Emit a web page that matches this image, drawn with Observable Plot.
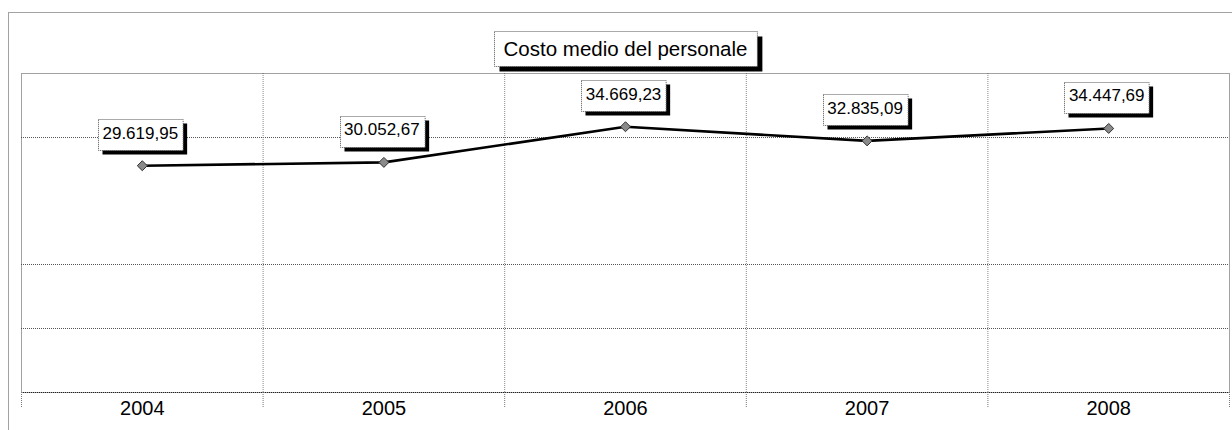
<!DOCTYPE html>
<html><head><meta charset="utf-8">
<script src="https://cdn.jsdelivr.net/npm/d3@7"></script>
<script src="https://cdn.jsdelivr.net/npm/@observablehq/plot@0.6"></script>
<style>
html,body{margin:0;padding:0;background:#fff;}
#chart{width:1232px;height:430px;overflow:hidden;}
</style></head><body><div id="chart"></div>
<script>
const title = "Costo medio del personale";
const years = [2004, 2005, 2006, 2007, 2008];
const costs = [29619.95, 30052.67, 34669.23, 32835.09, 34447.69];
const labels = ["29.619,95", "30.052,67", "34.669,23", "32.835,09", "34.447,69"];
const gridValues = [8545, 16830, 33270];
const yDomain = [259, 41560];

const data = years.map((year, i) => ({year, cost: costs[i], label: labels[i]}));
const boundaries = [...years.map(y => y - 0.5), years[years.length - 1] + 0.5];

const font = '"Liberation Sans", Arial, sans-serif';
const plot = Plot.plot({
  width: 1232, height: 430,
  marginLeft: 21, marginRight: 3, marginTop: 73, marginBottom: 38,
  style: {fontFamily: font, background: "#fff"},
  x: {type: "linear", domain: [boundaries[0], boundaries[boundaries.length - 1]], axis: null},
  y: {domain: yDomain, axis: null},
  marks: [
    Plot.ruleY(gridValues, {stroke: "#555", strokeDasharray: "1 1"}),
    Plot.ruleX(boundaries.slice(1, -1), {stroke: "#888", strokeDasharray: "1 1"}),
    Plot.frame({stroke: "#444", strokeDasharray: "1 1"}),
    Plot.ruleY([yDomain[0]], {stroke: "#222", strokeDasharray: "1 1"}),
    Plot.axisX({ticks: boundaries, tickSize: 15, tickFormat: () => "", stroke: "#777", label: null}),
    Plot.axisX({ticks: years, tickSize: 0, tickPadding: 8, fontSize: 20, tickFormat: d => String(d), fill: "#000", label: null}),
    Plot.lineY(data, {x: "year", y: "cost", stroke: "#000", strokeWidth: 2.6}),
    Plot.dot(data, {x: "year", y: "cost", symbol: "diamond2", r: 4.5, fill: "#8a8a8a", stroke: "#333", strokeWidth: 1}),
    Plot.text(data, {x: "year", y: "cost", text: "label", dy: -32.5, dx: -2, fontSize: 17, fill: "#000"}),
    Plot.text([title], {text: d => d, frameAnchor: "top", dy: -32, fontSize: 20.5, fill: "#000"})
  ]
});
document.getElementById("chart").append(plot);

const svgNode = plot.tagName.toLowerCase() === "svg" ? plot : plot.querySelector("svg");
const svg = d3.select(svgNode);
const ns = "http://www.w3.org/2000/svg";

// outer dotted border of the chart area
const outer = document.createElementNS(ns, "rect");
outer.setAttribute("x", 8.5); outer.setAttribute("y", 12.5);
outer.setAttribute("width", 1400); outer.setAttribute("height", 600);
outer.setAttribute("fill", "none"); outer.setAttribute("stroke", "#444");
outer.setAttribute("stroke-dasharray", "1 1");
const firstG = svgNode.querySelector("g");
svgNode.insertBefore(outer, firstG);

// dotted tick marks
svg.selectAll('g[aria-label="x-axis tick"]').attr("stroke-dasharray", "1 1");

// boxes with drop shadow behind text labels
const textGroups = svgNode.querySelectorAll('g[aria-label="text"]');
textGroups.forEach((g, gi) => {
  const isTitle = gi === textGroups.length - 1;
  const padX = isTitle ? 9.5 : 4.5;
  const halfH = isTitle ? 17.5 : 15.5;
  const offY = isTitle ? -0.5 : 1.5;
  const shadow = isTitle ? 5 : 4;
  const boxG = document.createElementNS(ns, "g");
  g.querySelectorAll("text").forEach(t => {
    const bb = t.getBBox();
    const m = t.getCTM();
    const x0 = m.a * bb.x + m.e, y0 = m.d * bb.y + m.f;
    const cx = x0 + bb.width / 2, cy = y0 + bb.height / 2 + offY;
    const w = bb.width + 2 * padX, h = 2 * halfH;
    const xl = Math.round(cx - w / 2) + 0.5, yt = Math.round(cy - halfH) + 0.5;
    const s = document.createElementNS(ns, "rect");
    s.setAttribute("x", xl + shadow); s.setAttribute("y", yt + shadow);
    s.setAttribute("width", w); s.setAttribute("height", h);
    s.setAttribute("fill", "#000");
    const b = document.createElementNS(ns, "rect");
    b.setAttribute("x", xl); b.setAttribute("y", yt);
    b.setAttribute("width", w); b.setAttribute("height", h);
    b.setAttribute("fill", "#fff"); b.setAttribute("stroke", "#555");
    b.setAttribute("stroke-dasharray", "1 1");
    boxG.append(s, b);
  });
  svgNode.insertBefore(boxG, g);
});
</script>
</body></html>
